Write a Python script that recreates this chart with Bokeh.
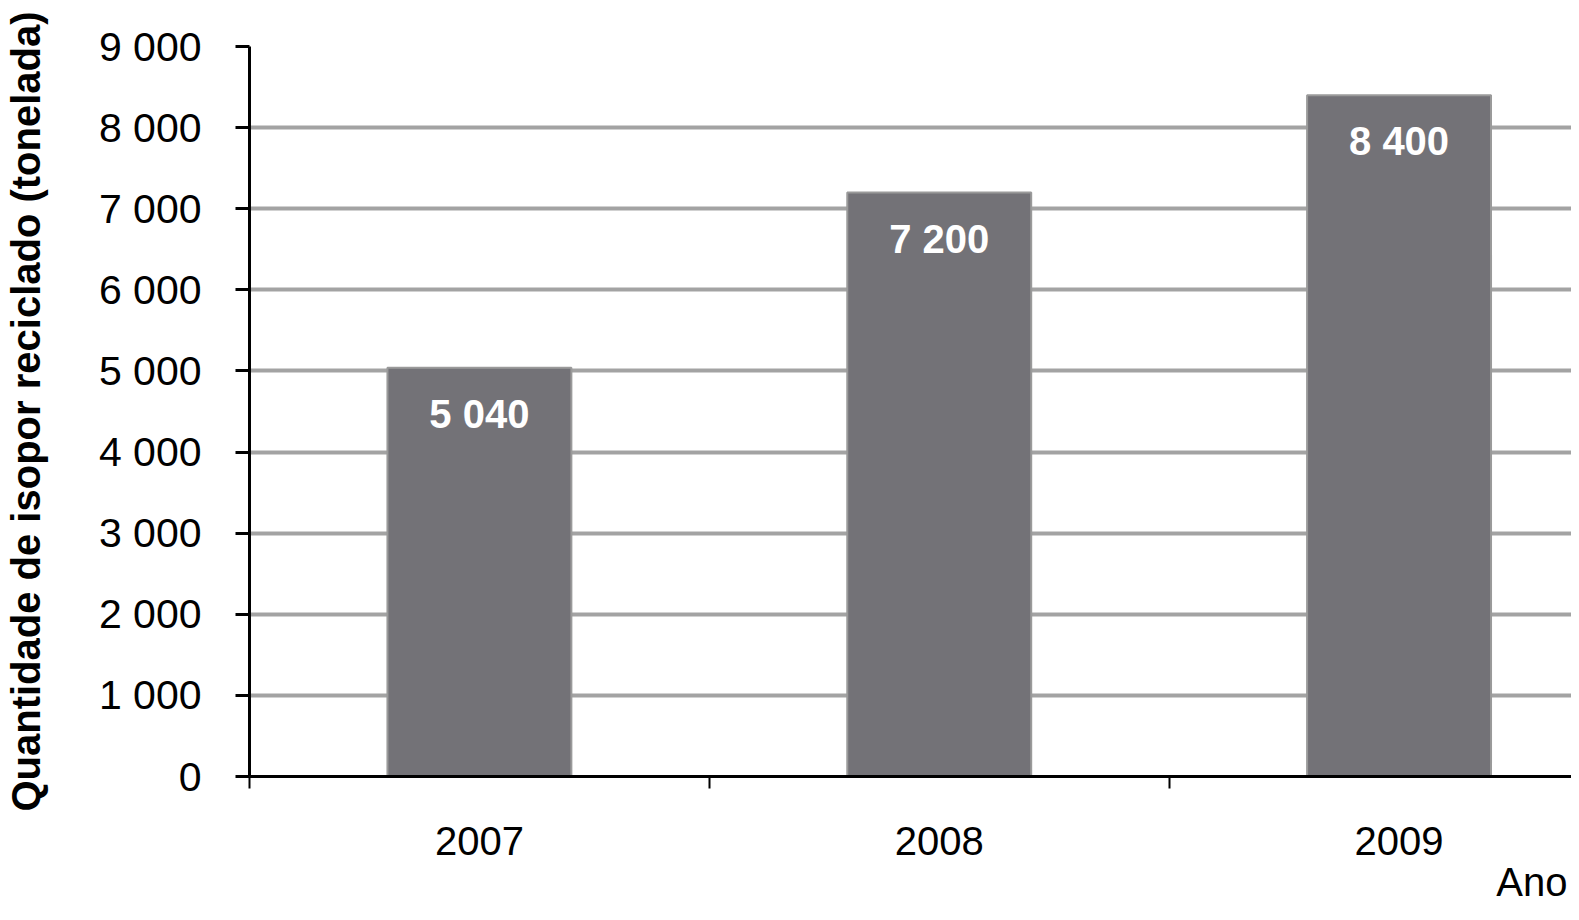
from bokeh.plotting import figure
from bokeh.models import ColumnDataSource, Range1d, FixedTicker, Title
from bokeh.core.properties import value
from bokeh.embed import file_html
from bokeh.resources import INLINE

anos = ["2007", "2008", "2009"]
quantidade = [5040, 7200, 8400]
y_ticks = [0, 1000, 2000, 3000, 4000, 5000, 6000, 7000, 8000, 9000]
y_tick_labels = ["0", "1 000", "2 000", "3 000", "4 000", "5 000",
                 "6 000", "7 000", "8 000", "9 000"]

FONT = "Liberation Sans"

xs = [i + 0.5 for i in range(len(anos))]
src = ColumnDataSource(data=dict(
    x=xs,
    y=quantidade,
    rotulo=[f"{v:,}".replace(",", " ") for v in quantidade],
))

p = figure(width=1571, height=904, output_backend="svg", toolbar_location=None,
           x_range=Range1d(0, 2.875), y_range=Range1d(0, 9000),
           min_border_left=248, min_border_right=0, min_border_top=46,
           min_border_bottom=128)
p.outline_line_color = None
p.background_fill_color = "white"

p.vbar(x="x", top="y", width=0.4, source=src, fill_color="#737277",
       line_color="#9a9a9a", line_width=2)
p.text(x="x", y="y", text="rotulo", source=src, y_offset=46,
       text_align="center", text_baseline="middle", text_color="white",
       text_font=value(FONT), text_font_style="bold", text_font_size="40px")

# eixo y
p.yaxis.ticker = FixedTicker(ticks=y_ticks)
p.yaxis.major_label_overrides = dict(zip(y_ticks, y_tick_labels))
p.yaxis.minor_tick_line_color = None
p.yaxis.major_tick_in = 0
p.yaxis.major_tick_out = 14
p.yaxis.major_tick_line_width = 3
p.yaxis.axis_line_width = 3
p.yaxis.axis_line_color = "black"
p.yaxis.major_label_text_font = FONT
p.yaxis.major_label_text_font_size = "41px"
p.yaxis.major_label_text_color = "black"
p.yaxis.major_label_standoff = 34
p.yaxis.axis_label = "Quantidade de isopor reciclado (tonelada)"
p.yaxis.axis_label_text_font = FONT
p.yaxis.axis_label_text_font_style = "bold"
p.yaxis.axis_label_text_font_size = "40px"
p.yaxis.axis_label_text_color = "black"
p.yaxis.axis_label_standoff = 48

# eixo x: rótulos no centro, marcas nas divisões
p.xaxis.ticker = FixedTicker(ticks=xs, minor_ticks=list(range(len(anos) + 1)))
p.xaxis.major_label_overrides = dict(zip(xs, anos))
p.xaxis.major_tick_line_color = None
p.xaxis.minor_tick_in = 0
p.xaxis.minor_tick_out = 12
p.xaxis.minor_tick_line_width = 2
p.xaxis.minor_tick_line_color = "black"
p.xaxis.axis_line_width = 3
p.xaxis.axis_line_color = "black"
p.xaxis.major_label_text_font = FONT
p.xaxis.major_label_text_font_size = "40px"
p.xaxis.major_label_text_color = "black"
p.xaxis.major_label_standoff = 38

p.xgrid.grid_line_color = None
p.ygrid.ticker = FixedTicker(ticks=y_ticks)
p.ygrid.grid_line_color = "#a3a3a3"
p.ygrid.grid_line_width = 4

p.add_layout(Title(text="Ano", align="right", text_font=FONT,
                   text_font_size="40px", text_font_style="normal",
                   text_color="black", offset=4, standoff=0), "below")

open("out.html", "w").write(file_html(p, INLINE))
